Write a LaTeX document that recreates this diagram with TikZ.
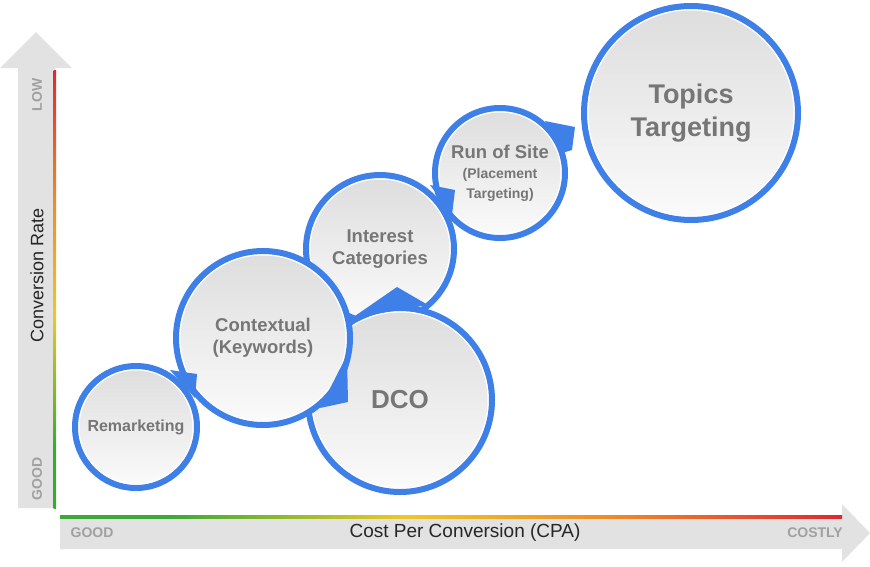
\documentclass[tikz,border=0pt]{standalone}
\usepackage{fontspec}
\setmainfont{Liberation Sans}
\usetikzlibrary{positioning}
\usetikzlibrary{calc}

\definecolor{ringblue}{RGB}{62,128,232}
\definecolor{axisgray}{RGB}{226,226,226}
\definecolor{labelgray}{RGB}{118,118,118}
\definecolor{tickgray}{RGB}{160,160,160}
\definecolor{bubbletop}{RGB}{221,221,221}
\definecolor{bubblebottom}{RGB}{251,251,251}
\definecolor{goodgreen}{RGB}{58,170,53}
\definecolor{midyellow}{RGB}{236,200,40}
\definecolor{midorange}{RGB}{238,140,40}
\definecolor{costlyred}{RGB}{222,40,50}

\pgfdeclarehorizontalshading{cpascale}{100bp}{color(0bp)=(goodgreen); color(32bp)=(goodgreen); color(47bp)=(midyellow); color(60bp)=(midorange); color(75bp)=(costlyred); color(100bp)=(costlyred)}
\pgfdeclareverticalshading{ratescale}{100bp}{color(0bp)=(goodgreen); color(32bp)=(goodgreen); color(47bp)=(midyellow); color(60bp)=(midorange); color(75bp)=(costlyred); color(100bp)=(costlyred)}

\begin{document}
\begin{tikzpicture}[x=1pt,y=-1pt,
  bubble/.style={circle,draw=ringblue,line width=6pt,inner sep=0pt,align=center,
    top color=bubbletop,bottom color=bubblebottom,text=labelgray,
    path picture={\draw[white,line width=1.5pt] let \p1=(path picture bounding box.east),
      \p2=(path picture bounding box.center) in (\p2) circle ({\x1-\x2-3.75pt});}},
  pointer/.style={fill=ringblue},
  scaletext/.style={font=\bfseries\fontsize{14}{16}\selectfont,text=tickgray},
  axistitle/.style={text=black!85}]
\useasboundingbox (0,0) rectangle (870,566);

% axes
\fill[axisgray] (18,508) -- (18,68) -- (0,68) -- (36,32) -- (72,68) -- (55,68) -- (55,508) -- cycle;
\fill[axisgray] (60,517) -- (842,517) -- (842,504) -- (870,533) -- (842,562) -- (842,549) -- (60,549) -- cycle;
\shade[shading=ratescale] (53.5,70) rectangle (56,508);
\shade[shading=cpascale] (60,515.5) rectangle (842,518.5);

\node[axistitle,rotate=90,font=\fontsize{18}{22}\selectfont] (rate) at (37,275) {Conversion Rate};
\node[scaletext,rotate=90] (low) at (37,95) {LOW};
\node[scaletext,rotate=90] (goodrate) at (37,479) {GOOD};
\node[axistitle,font=\fontsize{19}{22}\selectfont] (cpa) at (465,533) {Cost Per Conversion (CPA)};
\node[scaletext] (goodcost) at (92,533) {GOOD};
\node[scaletext] (costly) at (815,533) {COSTLY};

% bubbles
\node[bubble,minimum size=214pt,font=\bfseries\fontsize{27}{33}\selectfont] (topics) at (691,113) {Topics\\Targeting};
\node[bubble,minimum size=130pt,font=\bfseries\fontsize{18.5}{20}\selectfont] (site) at (500,173)
  {Run of Site\\{\fontsize{14}{16}\selectfont(Placement}\\{\fontsize{14}{16}\selectfont Targeting)}};
\node[bubble,minimum size=148pt,font=\bfseries\fontsize{18.5}{22}\selectfont] (interest) at (380,249) {Interest\\Categories};
\node[bubble,minimum size=184pt,font=\bfseries\fontsize{26}{30}\selectfont] (dco) at (400,400) {DCO};
\node[bubble,minimum size=174pt,font=\bfseries\fontsize{18.5}{22}\selectfont] (context) at (263,338) {Contextual\\(Keywords)};
\node[bubble,minimum size=122pt,font=\bfseries\fontsize{16}{19}\selectfont] (remark) at (136,427) {Remarketing};

% pointers
\fill[pointer] (170,370) -- (197,374) -- (195,398) -- cycle;
\fill[pointer] (347,355) -- (348,402) -- (320,408) -- cycle;
\fill[pointer] (352,318) -- (397,287) -- (428,305) -- cycle;
\fill[pointer] (430,185) -- (455,190) -- (452,215) -- cycle;
\fill[pointer] (545,121) -- (575,127) -- (572,150) -- (562,153) -- cycle;

\end{tikzpicture}
\end{document}
